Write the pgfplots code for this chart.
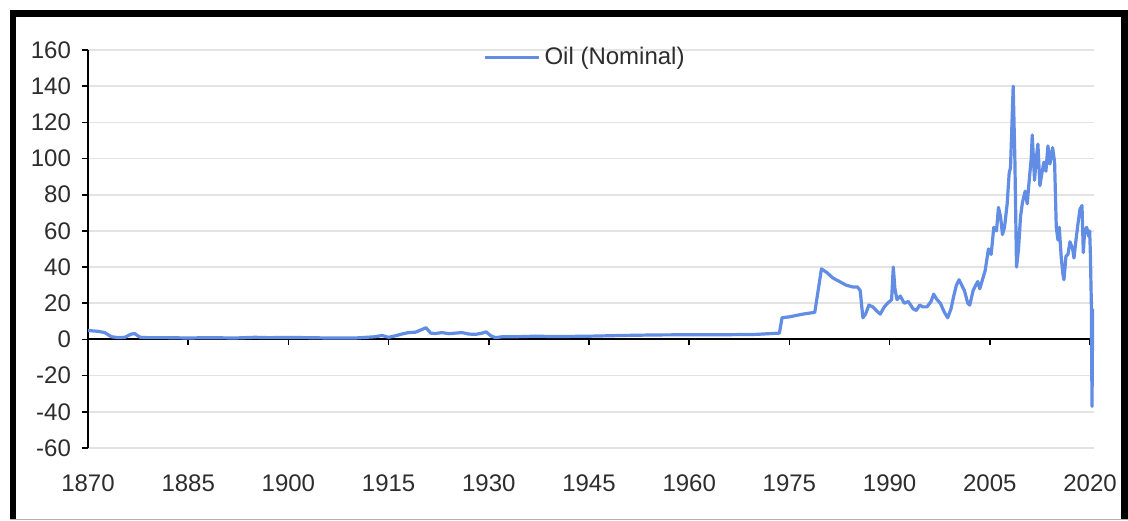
\documentclass[border=0pt]{standalone}
\usepackage{fontspec}
\setmainfont{Liberation Sans}
\usepackage{pgfplots}
\pgfplotsset{compat=1.18}

\definecolor{oilblue}{RGB}{98,141,229}
\definecolor{txtgray}{RGB}{45,45,45}

\pgfplotstableread{
year price
1870.0 5.0
1870.5 4.8
1871.5 4.5
1872.5 3.8
1873.5 1.5
1874.5 1.0
1875.5 1.2
1876.5 3.0
1877.0 3.2
1877.8 1.2
1879 1.0
1882 1.0
1885 0.8
1888 1.0
1892 0.8
1895 1.2
1897 1.0
1900 1.1
1903 1.0
1906 0.8
1910 0.8
1913 1.5
1914 2.2
1915 1.2
1916 2.0
1917 3.0
1918 3.8
1919 4.0
1920 5.5
1920.6 6.5
1921.3 3.5
1922 3.3
1923 3.8
1924 3.2
1925 3.5
1926 3.8
1927 3.0
1928 2.8
1929 3.5
1929.6 4.2
1930.3 2.0
1931 1.0
1932 1.5
1934 1.5
1937 1.8
1940 1.6
1945 1.8
1950 2.2
1955 2.5
1960 2.6
1965 2.6
1970 2.8
1973.5 3.5
1973.9 12
1975 12.5
1977 14
1978.8 15
1979.8 39
1980.6 37
1981.5 34
1982.5 32
1983.5 30
1984.5 29
1985.2 29
1985.6 27
1986.0 12
1986.4 14
1986.9 19
1987.5 18
1988.0 16
1988.6 14
1989.2 18
1989.7 20
1990.3 22
1990.55 40
1990.8 28
1991.1 22
1991.6 24
1992.2 20
1992.8 21
1993.5 17
1994.0 16
1994.5 19
1995.0 18
1995.6 18
1996.2 21
1996.6 25
1997.1 22
1997.6 20
1998.2 15
1998.7 12
1999.2 17
1999.6 24
2000.0 30
2000.4 33
2000.8 30
2001.2 27
2001.7 20
2002.0 19
2002.5 27
2002.9 30
2003.2 32
2003.5 28
2003.9 33
2004.3 38
2004.8 50
2005.2 47
2005.6 62
2006.0 60
2006.3 73
2006.6 68
2006.9 58
2007.2 62
2007.6 75
2007.9 92
2008.1 95
2008.5 140
2008.75 100
2009.0 40
2009.3 50
2009.6 68
2009.9 76
2010.3 82
2010.6 75
2010.9 88
2011.2 100
2011.35 113
2011.7 88
2011.9 98
2012.2 108
2012.5 85
2012.8 92
2013.1 98
2013.4 93
2013.7 107
2014.0 97
2014.4 106
2014.7 98
2014.95 62
2015.2 55
2015.4 62
2015.7 45
2015.95 36
2016.1 33
2016.4 46
2016.7 47
2017.0 54
2017.4 50
2017.6 45
2017.9 55
2018.2 64
2018.5 72
2018.8 74
2019.0 48
2019.2 60
2019.5 62
2019.8 57
2019.95 60
2020.05 48
2020.2 20
2020.3 -37
2020.4 17
}\oildata

\pgfplotsset{
  oilframe/.style={
    at={(44pt,36pt)}, anchor=south west,
    scale only axis,
    width=503pt, height=199pt,
    xmin=1870, xmax=2020.6,
    ymin=-60, ymax=160,
    xtick={1870,1885,...,2020},
    ytick={-60,-40,...,160},
    font=\fontsize{12}{14}\selectfont,
  }
}

\begin{document}
\begin{tikzpicture}
% page and frame (1px = 0.5pt)
\useasboundingbox (0,0) rectangle (564pt,260pt);
\fill[white] (0,0) rectangle (564pt,260pt);
\fill[black] (5pt,251.5pt) rectangle (564pt,255pt);
\fill[black] (5pt,0) rectangle (8pt,255pt);
\fill[black] (560.5pt,0) rectangle (564pt,255pt);
\draw[gray!60, line width=0.5pt] (5pt,0.25pt) -- (564pt,0.25pt);

% overlay axis first: the small ticks hanging from the zero line
\begin{axis}[
    oilframe,
    axis x line=middle,
    axis y line=none,
    x axis line style={-, black, line width=1pt},
    xtick={1885,1900,...,2020},
    xticklabels={},
    xtick style={black, line width=0.8pt},
    xtick align=outside,
    major tick length=3pt,
    ytick=\empty,
]
  \addplot[draw=none] coordinates {(1870,0) (2020,0)};
\end{axis}

% main axis: grid, zero line, y axis, tick labels, series
\begin{axis}[
    oilframe,
    axis lines*=left,
    x axis line style={draw=none},
    y axis line style={black, line width=0.8pt},
    xtick style={draw=none},
    ytick style={black, line width=0.8pt},
    tick align=outside,
    major tick length=3pt,
    ymajorgrids,
    major grid style={gray!22, line width=0.8pt},
    extra y ticks={0},
    extra y tick labels={},
    extra y tick style={grid=major, major grid style={black, line width=1pt}},
    tick label style={text=txtgray},
    xticklabel style={yshift=-7pt},
    yticklabel style={xshift=-2pt},
    /pgf/number format/assume math mode=true,
    /pgf/number format/1000 sep={},
    legend style={at={(0.495,0.982)}, anchor=center, draw=none, fill=none,
        font=\fontsize{12}{14}\selectfont, text=txtgray},
    legend image code/.code={\draw[#1, line width=1.6pt] (0pt,0pt) -- (27pt,0pt);},
    legend cell align=left,
]
  \addplot[color=oilblue, line width=1.6pt, line join=round] table[x=year, y=price] {\oildata};
  \addlegendentry{Oil (Nominal)}
\end{axis}
\end{tikzpicture}
\end{document}
